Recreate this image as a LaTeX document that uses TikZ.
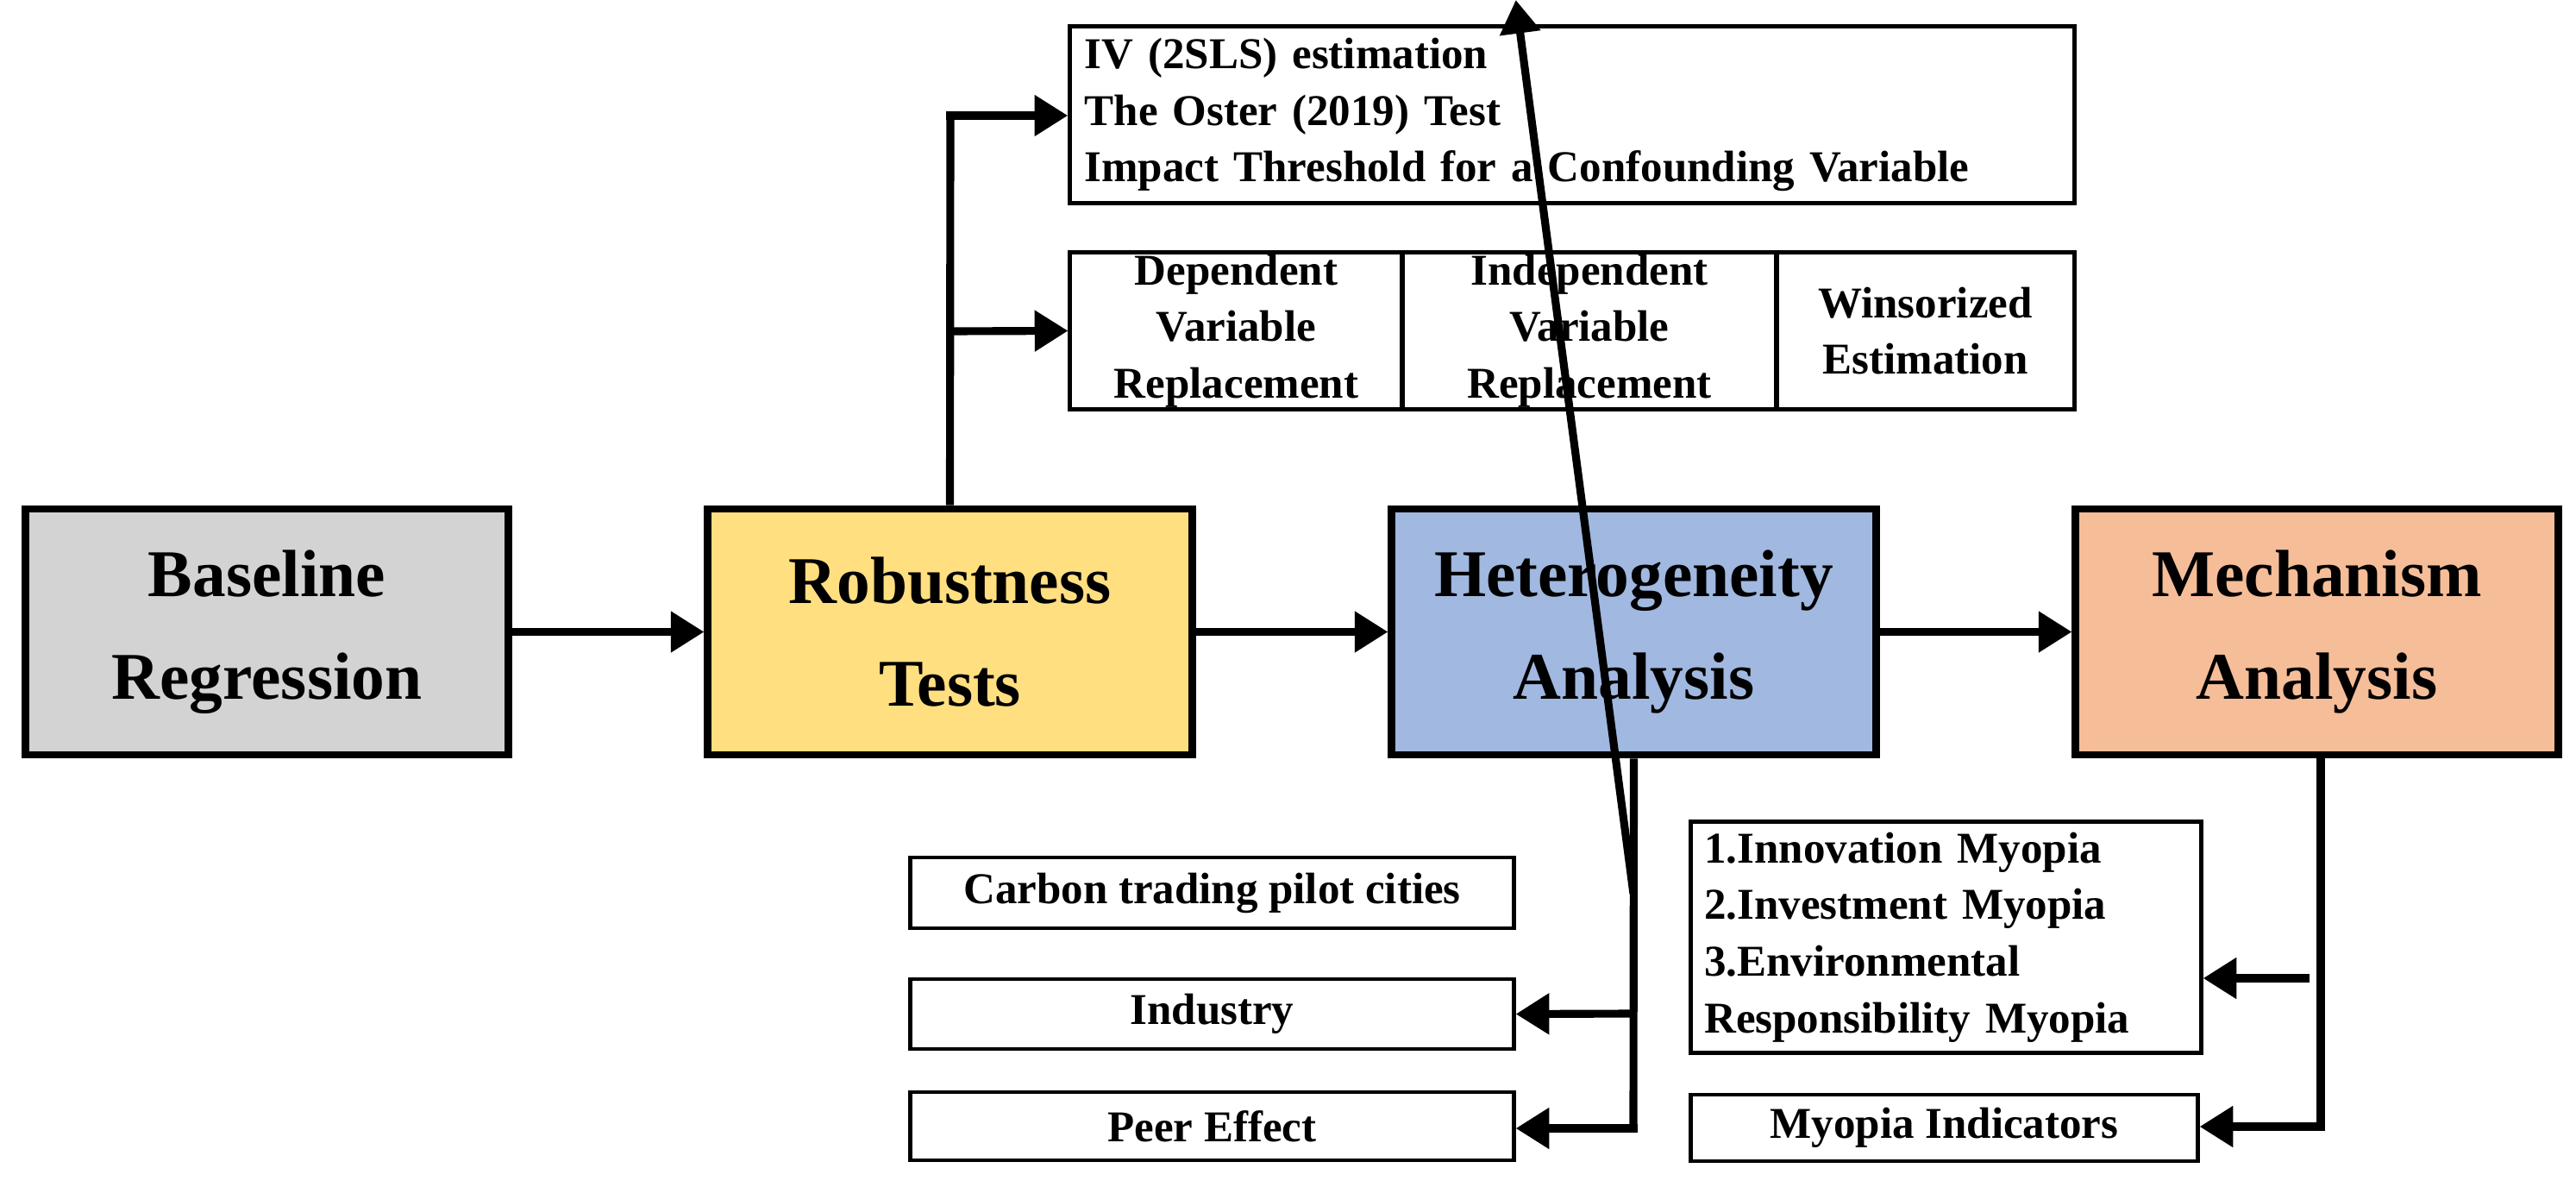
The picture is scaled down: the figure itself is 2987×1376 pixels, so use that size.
\documentclass[tikz,border=0pt]{standalone}
\usepackage{fontspec}
\setmainfont{Liberation Serif}
\usetikzlibrary{arrows.meta}
\begin{document}
\begin{tikzpicture}[x=0.01cm,y=-0.01cm,
  big/.style={draw,line width=2.5pt,font=\fontsize{22}{34}\selectfont\bfseries,align=center},
  sm/.style={draw,line width=1.4pt,font=\fontsize{14.5}{18.7}\selectfont\bfseries},
  conn/.style={line width=2.6pt},
  arr/.style={line width=2.6pt,-{Triangle[length=11pt,width=13pt]}}]
\useasboundingbox (0,0) rectangle (2987,1376);
\definecolor{cg}{HTML}{D3D3D3}\definecolor{cy}{HTML}{FFDF80}
\definecolor{cb}{HTML}{A1B8E0}\definecolor{co}{HTML}{F5BD98}
\node[big,fill=cg,minimum width=5.59cm,minimum height=2.85cm] (base) at (309.5,732.5) {Baseline\\Regression};
\node[big,fill=cy,minimum width=5.61cm,minimum height=2.85cm] (rob) at (1101.5,732.5) {Robustness\\Tests};
\node[big,fill=cb,minimum width=5.61cm,minimum height=2.85cm] (het) at (1894.5,732.5) {Heterogeneity\\Analysis};
\node[big,fill=co,minimum width=5.59cm,minimum height=2.85cm] (mech) at (2686.5,732.5) {Mechanism\\Analysis};
\draw[arr] (base) -- (rob);
\draw[arr] (rob) -- (het);
\draw[arr] (het) -- (mech);
% top boxes
\node[sm,minimum width=11.64cm,minimum height=2.04cm,align=left,text width=11.3cm] (iv) at (1823,133) {IV (2SLS) estimation\\The Oster (2019) Test\\Impact Threshold for a Confounding Variable};
\node[sm,minimum width=3.85cm,minimum height=1.81cm,align=center,inner sep=0pt] (dv) at (1433.5,383.5) {Dependent\\Variable\\Replacement};
\node[sm,minimum width=4.34cm,minimum height=1.81cm,align=center,inner sep=0pt] (idv) at (1843,383.5) {Independent\\Variable\\Replacement};
\node[sm,minimum width=3.45cm,minimum height=1.81cm,align=center,inner sep=0pt] (win) at (2232.5,383.5) {Winsorized\\Estimation};
\coordinate (rv) at (1102,134);
\coordinate (rm) at (1102,384);
\draw[conn] (rob.north) -- (rv);
\draw[arr] ([xshift=-1.3pt]rv) -- (iv.west|-rv);
\draw[arr] (rm) -- (dv.west);
% heterogeneity
\node[sm,minimum width=6.99cm,minimum height=0.82cm] (carb) at (1405.5,1035) {Carbon trading pilot cities};
\node[sm,minimum width=6.99cm,minimum height=0.81cm] (ind) at (1405.5,1175.5) {Industry};
\node[sm,minimum width=6.99cm,minimum height=0.79cm] (peer) at (1405.5,1305.5) {Peer Effect};
\coordinate (hb) at (1894,1308);
\draw[conn] (het.south) -- (hb);
\draw[arr] (1894,1036) -- (carb.east|-1036,0);
\draw[arr] (1894,1175) -- (ind.east);
\draw[arr] ([xshift=1.3pt]hb) -- (peer.east|-hb);
% mechanism
\node[sm,minimum width=5.91cm,minimum height=2.59cm,align=left,text width=5.6cm] (my) at (2256.5,1086.5) {1.Innovation Myopia\\2.Investment Myopia\\3.Environmental\\Responsibility Myopia};
\node[sm,minimum width=5.87cm,minimum height=0.77cm] (mi) at (2254.5,1307.5) {Myopia Indicators};
\coordinate (mb) at (2691,1306);
\draw[conn] (2691,875) -- (mb);
\draw[arr] (2678,1134) -- (my.east|-0,1134);
\draw[arr] ([xshift=1.3pt]mb) -- (mi.east|-mb);
\end{tikzpicture}
\end{document}
